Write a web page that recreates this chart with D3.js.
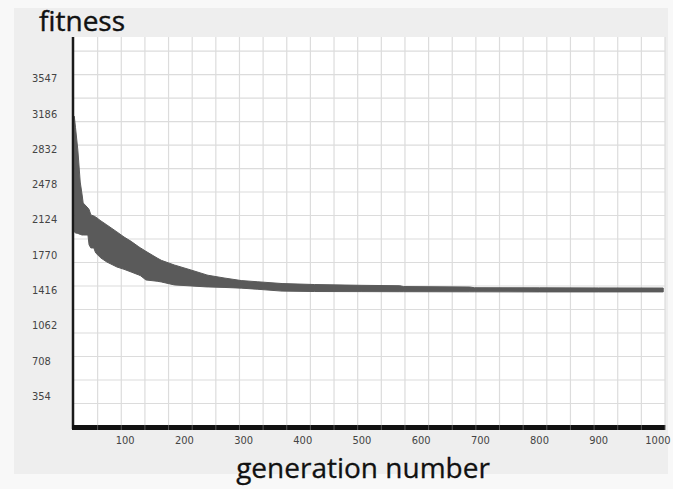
<!DOCTYPE html>
<html>
<head>
<meta charset="utf-8">
<script src="https://cdn.jsdelivr.net/npm/d3@7"></script>
<style>
  html, body { margin: 0; padding: 0; background: #f8f8f8; }
  svg { display: block; }
</style>
</head>
<body>
<svg id="chart" width="673" height="489"></svg>
<script>
// ---- data ----
const generations = [14, 16, 20, 24, 27, 29, 37, 39, 42, 47, 50, 59, 69, 86, 98, 110, 123, 126, 135, 154,
                     161, 183, 211, 238, 240, 267, 296, 323, 365, 420, 500, 564, 570, 682, 690, 800, 900, 1009];
const fitnessUpper = [3160, 3050, 2820, 2500, 2380, 2290, 2240, 2225, 2170, 2160, 2150, 2110, 2070, 2000, 1949, 1905, 1850, 1839, 1805, 1738,
                      1715, 1668, 1618, 1568, 1565, 1538, 1512, 1500, 1482, 1472, 1464, 1460, 1452, 1447, 1440, 1439, 1438, 1437];
const fitnessLower = [2000, 1990, 1985, 1975, 1969, 1969, 1969, 1870, 1839, 1839, 1790, 1738, 1698, 1648, 1625, 1598, 1568, 1560, 1518, 1505,
                      1498, 1468, 1458, 1448, 1448, 1443, 1436, 1425, 1406, 1402, 1401, 1400, 1400, 1399, 1399, 1398, 1398, 1398];
const xTicks = [100, 200, 300, 400, 500, 600, 700, 800, 900, 1000];
const yTicks = [354, 708, 1062, 1416, 1770, 2124, 2478, 2832, 3186, 3547];
const xDomain = [13.5, 1012];
const yDomain = [43, 3955];
const xGridCount = 25;
const yGridStep = 235.7;

const svg = d3.select("#chart");
const W = 673, H = 489;
const plot = { left: 74, right: 665, top: 37, bottom: 427 };

const x = d3.scaleLinear().domain(xDomain).range([plot.left, plot.right]);
const y = d3.scaleLinear().domain(yDomain).range([plot.bottom, plot.top]);

// background panels
svg.append("rect").attr("width", W).attr("height", H).attr("fill", "#f8f8f8");
svg.append("rect").attr("x", 14).attr("y", 8).attr("width", 654).attr("height", 466).attr("fill", "#eeeeee");

// plot area
svg.append("rect")
  .attr("x", plot.left).attr("y", plot.top)
  .attr("width", plot.right - plot.left).attr("height", plot.bottom - plot.top)
  .attr("fill", "#ffffff");

// grid
const xGrid = d3.range(1, xGridCount + 1).map(i => xDomain[0] + i * (xDomain[1] - xDomain[0]) / xGridCount);
const yGrid = d3.range(yDomain[0] + yGridStep, yDomain[1], yGridStep);
const grid = svg.append("g").attr("stroke", "#dcdcdc").attr("stroke-width", 1.2);
grid.selectAll("line.v").data(xGrid).join("line")
  .attr("x1", d => x(d)).attr("x2", d => x(d))
  .attr("y1", plot.top).attr("y2", plot.bottom);
grid.selectAll("line.h").data(yGrid).join("line")
  .attr("x1", plot.left).attr("x2", plot.right)
  .attr("y1", d => y(d)).attr("y2", d => y(d));

// fitness band
const bandData = generations.map((g, i) => ({ g, hi: fitnessUpper[i], lo: fitnessLower[i] }));
const area = d3.area()
  .x(d => x(d.g))
  .y0(d => y(d.lo))
  .y1(d => y(d.hi));
svg.append("path").datum(bandData)
  .attr("d", area)
  .attr("fill", "#5a5a5a")
  .attr("stroke", "#5a5a5a")
  .attr("stroke-width", 1);

// axes lines
svg.append("line")
  .attr("x1", plot.left - 1).attr("x2", plot.left - 1)
  .attr("y1", plot.top).attr("y2", plot.bottom + 2)
  .attr("stroke", "#1a1a1a").attr("stroke-width", 2.5);
svg.append("line")
  .attr("x1", plot.left - 2).attr("x2", plot.right)
  .attr("y1", plot.bottom + 0.5).attr("y2", plot.bottom + 0.5)
  .attr("stroke", "#111").attr("stroke-width", 5);
svg.append("g").selectAll("line").data(xGrid).join("line")
  .attr("x1", d => x(d)).attr("x2", d => x(d))
  .attr("y1", plot.bottom - 2).attr("y2", plot.bottom + 3)
  .attr("stroke", "#555").attr("stroke-width", 1);

// tick labels
const tickFont = "'Liberation Sans Narrow', 'DejaVu Sans Condensed', 'Liberation Sans', sans-serif";
svg.append("g").selectAll("text").data(yTicks).join("text")
  .attr("x", 32).attr("y", d => y(d)).attr("dy", "0.35em")
  .attr("font-family", tickFont).attr("font-size", 11).attr("fill", "#444")
  .text(d => d);
svg.append("g").selectAll("text").data(xTicks).join("text")
  .attr("x", d => x(d)).attr("y", 440).attr("dy", "0.35em")
  .attr("text-anchor", "middle")
  .attr("font-family", tickFont).attr("font-size", 11).attr("fill", "#444")
  .text(d => d);

// titles
svg.append("text")
  .attr("x", 39).attr("y", 31)
  .attr("font-family", "'Open Sans', 'Noto Sans', sans-serif")
  .attr("font-size", 28).attr("fill", "#111")
  .attr("stroke", "#111").attr("stroke-width", 0.4)
  .text("fitness");
svg.append("text")
  .attr("x", 363).attr("y", 478)
  .attr("text-anchor", "middle")
  .attr("font-family", "'Open Sans', 'Noto Sans', sans-serif")
  .attr("font-size", 28).attr("fill", "#111")
  .attr("stroke", "#111").attr("stroke-width", 0.3)
  .text("generation number");
</script>
</body>
</html>
